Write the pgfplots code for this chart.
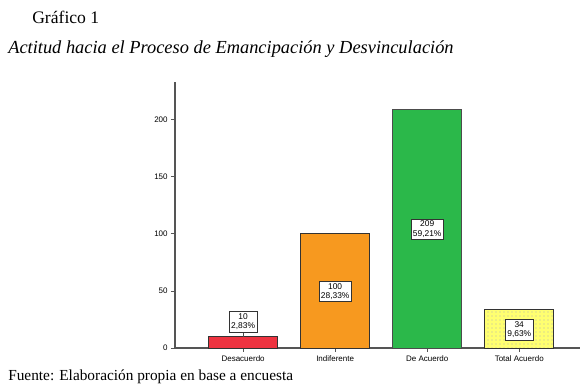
\documentclass[border=0pt]{standalone}
\usepackage{pgfplots}
\pgfplotsset{compat=1.18}
\usepackage{fontspec}
\setmainfont{Liberation Serif}
\newfontfamily\arialf{Liberation Sans}
\usetikzlibrary{patterns}
\definecolor{cred}{HTML}{EE3340}
\definecolor{corange}{HTML}{F7991F}
\definecolor{cgreen}{HTML}{2BB84A}
\definecolor{cyellow}{HTML}{FFFF70}
\definecolor{axgray}{HTML}{555555}
\begin{document}
\begin{tikzpicture}
\useasboundingbox (0,0) rectangle (440.25pt,291pt);
\node[anchor=base west,inner sep=0pt,font=\fontsize{13.2}{15}\selectfont] at (24pt,273pt) {Gráfico 1};
\node[anchor=base west,inner sep=0pt,font=\fontsize{13.8}{15}\selectfont\itshape] at (6pt,251pt) {Actitud hacia el Proceso de Emancipación y Desvinculación};
\node[anchor=base west,inner sep=0pt,font=\fontsize{11.5}{13}\selectfont] at (6pt,5.5pt) {Fuente: Elaboración propia en base a encuesta};
\begin{axis}[
  at={(131.25pt,30pt)}, anchor=south west,
  scale only axis, width=303.75pt, height=199.5pt,
  xmin=-0.74, xmax=3.66, ymin=0, ymax=233,
  axis lines*=left,
  axis line style={axgray, line width=0.8pt},
  xtick={0,1,2,3},
  xticklabels={Desacuerdo,Indiferente,De Acuerdo,Total Acuerdo},
  ytick={0,50,100,150,200},
  tick align=outside, tick style={axgray, line width=0.6pt},
  major tick length=3pt,
  tick label style={font=\arialf\fontsize{6}{7}\selectfont},
  /pgf/number format/assume math mode=true,
  xticklabel style={yshift=1pt},
  yticklabel style={xshift=1pt},
  ybar, bar width=0.75, bar shift=0pt,
  clip=false,
]
\addplot[fill=cred, draw=black!80, line width=0.5pt] coordinates {(0,10)};
\addplot[fill=corange, draw=black!80, line width=0.5pt] coordinates {(1,100)};
\addplot[fill=cgreen, draw=black!70, line width=0.5pt] coordinates {(2,209)};
\addplot[fill=cyellow, draw=black!80, line width=0.5pt, postaction={pattern=dots, pattern color=black!30}] coordinates {(3,34)};
\tikzset{lbl/.style={draw=black!80, fill=white, inner xsep=1.5pt, inner ysep=1.5pt, align=center, font=\arialf\fontsize{6.3}{7}\selectfont, line width=0.5pt}}
\draw[black!70, line width=0.4pt] (axis cs:0,10) -- (axis cs:0,15);
\node[lbl] at (axis cs:0,23) {10\\2,83\%};
\node[lbl] at (axis cs:1,49.5) {100\\28,33\%};
\node[lbl] at (axis cs:2,104) {209\\59,21\%};
\node[lbl] at (axis cs:3,16) {34\\9,63\%};
\end{axis}
\end{tikzpicture}
\end{document}
